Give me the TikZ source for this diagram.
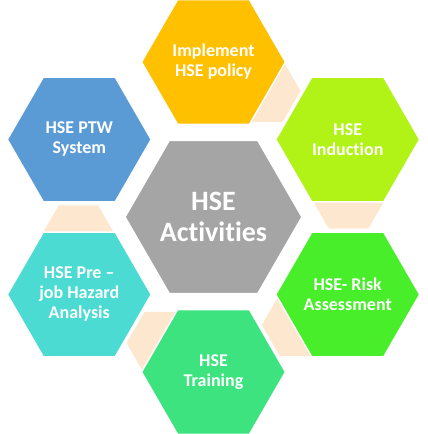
\documentclass[tikz,border=0pt]{standalone}
\usepackage{fontspec}
\setmainfont{Carlito}[Ligatures=NoCommon]
\usetikzlibrary{shapes.geometric}

\definecolor{policygold}{HTML}{FFC000}
\definecolor{inductionlime}{HTML}{B1F316}
\definecolor{riskgreen}{HTML}{47EE29}
\definecolor{traininggreen}{HTML}{3CE37F}
\definecolor{hazardcyan}{HTML}{4BDBD3}
\definecolor{ptwblue}{HTML}{5B9BD5}
\definecolor{hubgray}{HTML}{A5A5A5}
\definecolor{linkbeige}{HTML}{FDE7CF}

\begin{document}
\begin{tikzpicture}[
        x=1pt, y=1pt,
        hexa/.style={
            regular polygon,
            regular polygon sides=6,
            minimum size=144pt,
            inner sep=0pt,
            draw=white,
            line width=1.5pt,
            text=white,
            align=center,
            font=\fontsize{18}{20}\selectfont\bfseries
        },
        hub/.style={
            hexa,
            minimum size=177pt,
            font=\fontsize{28}{31}\selectfont\bfseries
        },
        link/.style={
            regular polygon,
            regular polygon sides=6,
            minimum size=72pt,
            inner sep=0pt,
            fill=linkbeige
        },
        widelink/.style={
            link,
            minimum size=79pt
        }
    ]
    \useasboundingbox (0,0) rectangle (428,434);
    \coordinate (mid) at (213.5,217);

    % beige links between neighbouring hexagons, drawn first
    \node[link] (link1) at ([shift={(68:136)}]mid) {};
    \node[widelink] (link2) at ([shift={(9.5:137)}]mid) {};
    \node[link] (link3) at ([shift={(-52:137)}]mid) {};
    \node[link] (link4) at ([shift={(-112:136)}]mid) {};
    \node[widelink] (link5) at ([shift={(-170.5:137)}]mid) {};

    \node[hexa, fill=policygold] (policy) at ([shift={(90:155)}]mid) {Implement\\HSE policy};
    \node[hexa, fill=inductionlime] (induction) at ([shift={(30:155)}]mid) {HSE\\Induction};
    \node[hexa, fill=riskgreen] (risk) at ([shift={(-30:155)}]mid) {HSE- Risk\\Assessment};
    \node[hexa, fill=traininggreen] (training) at ([shift={(-90:155)}]mid) {HSE\\Training};
    \node[hexa, fill=hazardcyan] (hazard) at ([shift={(-150:155)}]mid) {HSE Pre --\\job Hazard\\Analysis};
    \node[hexa, fill=ptwblue] (ptw) at ([shift={(150:155)}]mid) {HSE PTW\\System};

    \node[hub, fill=hubgray] (activities) at (mid) {HSE\\Activities};
\end{tikzpicture}
\end{document}
